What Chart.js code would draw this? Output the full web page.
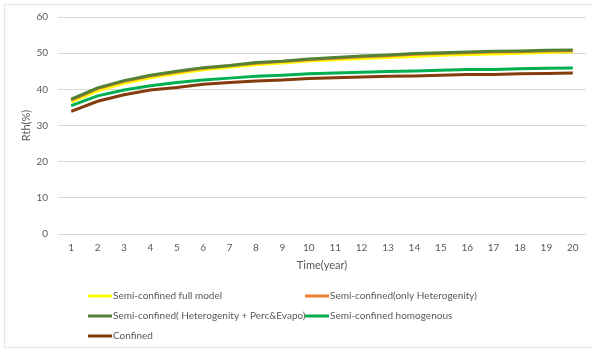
<!DOCTYPE html>
<html>
<head>
<meta charset="utf-8">
<script src="https://cdn.jsdelivr.net/npm/chart.js@4/dist/chart.umd.min.js"></script>
<style>
  html, body { margin: 0; padding: 0; background: #fff; }
  #wrap { position: absolute; left: 0; top: 0; width: 593px; height: 350px; }
  #frame { position: absolute; left: 4px; top: 4px; width: 592px; height: 344px; border: 1px solid #e4e4e4; box-sizing: border-box; }
</style>
</head>
<body>
<div id="frame"></div>
<div id="wrap"><canvas id="c" width="593" height="350"></canvas></div>
<script>
// Thermal recovery efficiency over 20 years of operation
const years = ['1','2','3','4','5','6','7','8','9','10','11','12','13','14','15','16','17','18','19','20'];

const seriesNames = [
  'Semi-confined full model',
  'Semi-confined(only Heterogenity)',
  'Semi-confined( Heterogenity + Perc&Evapo)',
  'Semi-confined homogenous',
  'Confined'
];

const fullModel    = [36.5, 39.6, 41.7, 43.2, 44.4, 45.4, 46.1, 46.8, 47.3, 47.8, 48.2, 48.5, 48.8, 49.1, 49.4, 49.6, 49.8, 50.0, 50.2, 50.4];
const onlyHetero   = [37.0, 40.2, 42.2, 43.7, 44.8, 45.8, 46.5, 47.2, 47.7, 48.2, 48.6, 49.0, 49.3, 49.7, 49.9, 50.1, 50.3, 50.4, 50.6, 50.7];
const heteroPercEv = [37.3, 40.4, 42.4, 43.9, 45.0, 46.0, 46.6, 47.4, 47.8, 48.4, 48.8, 49.2, 49.5, 49.9, 50.1, 50.3, 50.5, 50.6, 50.8, 50.9];
const homogenous   = [35.5, 38.2, 39.8, 41.0, 41.9, 42.6, 43.1, 43.6, 43.9, 44.3, 44.5, 44.7, 44.9, 45.1, 45.3, 45.5, 45.5, 45.7, 45.8, 45.9];
const confined     = [33.9, 36.7, 38.5, 39.8, 40.5, 41.4, 41.9, 42.3, 42.6, 43.0, 43.2, 43.4, 43.6, 43.7, 43.9, 44.1, 44.1, 44.3, 44.4, 44.5];

const yTicks = [0, 10, 20, 30, 40, 50, 60];

const colors = ['#FFFF00', '#ED7D31', '#548235', '#00B050', '#843C0C'];
const values = [fullModel, onlyHetero, heteroPercEv, homogenous, confined];

const FONT = 'Lato, "Liberation Sans", sans-serif';
const GREY = '#595959';

// Two-column legend below the plot
const columnLegend = {
  id: 'columnLegend',
  afterDraw(chart) {
    const ctx = chart.ctx;
    ctx.save();
    ctx.font = '10px ' + FONT;
    ctx.fillStyle = GREY;
    ctx.textBaseline = 'middle';
    ctx.textAlign = 'left';
    const colX = [88, 305];
    const rowY = [296, 316, 336];
    chart.data.datasets.forEach((ds, i) => {
      const x = colX[i % 2];
      const y = rowY[Math.floor(i / 2)];
      ctx.strokeStyle = ds.borderColor;
      ctx.lineWidth = 3;
      ctx.beginPath();
      ctx.moveTo(x, y);
      ctx.lineTo(x + 24, y);
      ctx.stroke();
      ctx.fillText(ds.label, x + 25, y);
    });
    ctx.restore();
  }
};

new Chart(document.getElementById('c'), {
  type: 'line',
  data: {
    labels: years,
    datasets: seriesNames.map((name, i) => ({
      label: name,
      data: values[i],
      borderColor: colors[i],
      backgroundColor: colors[i],
      borderWidth: 3,
      pointRadius: 0,
      tension: 0,
      fill: false,
      order: seriesNames.length - i
    }))
  },
  options: {
    responsive: false,
    animation: false,
    devicePixelRatio: 1,
    layout: { padding: { left: 5, right: 7, top: 17, bottom: 75 } },
    plugins: {
      legend: { display: false },
      tooltip: { enabled: false }
    },
    scales: {
      x: {
        offset: true,
        grid: { display: false, drawTicks: false },
        border: { display: false },
        ticks: { color: GREY, font: { family: FONT, size: 10 }, padding: 8, maxRotation: 0, autoSkip: false },
        title: { display: true, text: 'Time(year)', color: GREY, font: { family: FONT, size: 11 }, padding: { top: 4, bottom: 3 } },
        afterFit(s) { s.height = 41; }
      },
      y: {
        min: 0,
        max: 60,
        afterBuildTicks(s) { s.ticks = yTicks.map(v => ({ value: v })); },
        grid: { color: '#d9d9d9', lineWidth: 1, drawTicks: false },
        border: { display: false },
        ticks: { color: GREY, font: { family: FONT, size: 10 }, padding: 10 },
        title: { display: true, text: 'Rth(%)', color: GREY, font: { family: FONT, size: 11 }, padding: { top: 15, bottom: 0 } },
        afterFit(s) { s.width = 53; }
      }
    }
  },
  plugins: [columnLegend]
});
</script>
</body>
</html>
